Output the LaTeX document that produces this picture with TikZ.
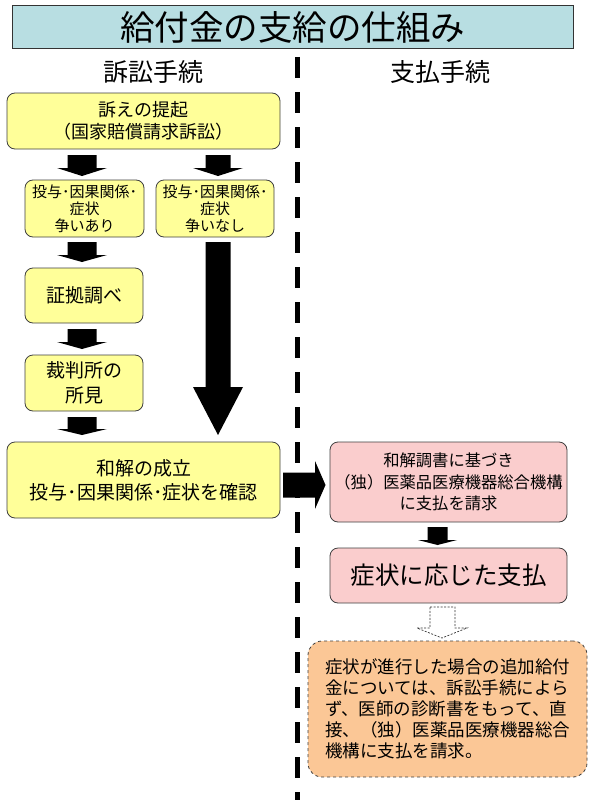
\documentclass[tikz,border=0pt]{standalone}
\usepackage{fontspec}
\setmainfont{Noto Sans CJK JP}
\definecolor{titlefill}{HTML}{B8DEE2}
\definecolor{yfill}{HTML}{FFFF99}
\definecolor{pfill}{HTML}{FACDCD}
\definecolor{ofill}{HTML}{FBC796}
\newcommand{\blkdown}[6]{% cx, ytop, yheadbase, ytip, shaft half, head half
  \fill[black] ({#1-#5},#2) -- ({#1+#5},#2) -- ({#1+#5},#3) -- ({#1+#6},#3) -- (#1,#4) -- ({#1-#6},#3) -- ({#1-#5},#3) -- cycle;}
\newcommand{\fs}[2]{\fontsize{#1pt}{#2pt}\selectfont}
\begin{document}
\begin{tikzpicture}[x=1pt,y=-1pt,
  box/.style={draw=black!75,line width=0.8pt,rounded corners=8pt,align=center,inner sep=0pt},
  ybox/.style={box,fill=yfill},
  pbox/.style={box,fill=pfill},
  obox/.style={box,fill=ofill,dashed,rounded corners=14pt,align=left},
]
\useasboundingbox (0,0) rectangle (592,800);
\fill[white] (0,0) rectangle (592,800);

% title
\node[draw=black!80,line width=1pt,fill=titlefill,minimum width=561pt,minimum height=43pt,inner sep=0pt,font=\fs{34.5}{38}] (title) at (292.5,27.5) {給付金の支給の仕組み};

% headers
\node[font=\fs{25}{28}] (hL) at (153,72) {訴訟手続};
\node[font=\fs{25}{28}] (hR) at (440,72) {支払手続};

% dashed separator
\coordinate (sepT) at (297,57);
\coordinate (sepB) at (297,800);
\draw[line width=5pt,dash pattern=on 21pt off 14pt] (sepT) -- (sepB);

% left column
\node[ybox,minimum width=273pt,minimum height=56pt,font=\fs{18}{22}] (sue) at (143.5,121) {訴えの提起\\（国家賠償請求訴訟）};
\node[ybox,minimum width=119pt,minimum height=57pt,font=\fs{15}{17}] (dispA) at (84.5,208.5) {投与･因果関係･\\症状\\争いあり};
\node[ybox,minimum width=118pt,minimum height=57pt,font=\fs{15}{17}] (dispB) at (215,208.5) {投与･因果関係･\\症状\\争いなし};
\node[ybox,minimum width=118pt,minimum height=55pt,font=\fs{19}{24}] (evid) at (84,295.5) {証拠調べ};
\node[ybox,minimum width=118pt,minimum height=56pt,font=\fs{19}{25}] (opin) at (84,383) {裁判所の\\所見};
\node[ybox,minimum width=273pt,minimum height=76pt,font=\fs{19}{24}] (settle) at (143.5,480) {和解の成立\\投与･因果関係･症状を確認};

% right column
\node[pbox,minimum width=237pt,minimum height=80pt,font=\fs{16.3}{21.5}] (claim) at (448.5,482) {和解調書に基づき\\（独）医薬品医療機器総合機構\\に支払を請求};
\node[pbox,minimum width=237pt,minimum height=55pt,font=\fs{24.5}{28}] (pay) at (448.5,575.5) {症状に応じた支払};
\node[obox,minimum width=279pt,minimum height=136pt,font=\fs{17.5}{21}] (note) at (447.5,709) {症状が進行した場合の追加給付\\金については、訴訟手続によら\\ず、医師の診断書をもって、直\\接、（独）医薬品医療機器総合\\機構に支払を請求。};

% block arrows
\blkdown{82}{155}{168}{176}{14.5}{25}
\blkdown{218}{155}{168}{176}{12.5}{25}
\blkdown{82}{242}{255}{262}{14.5}{25}
\blkdown{82}{329}{342}{349}{14.5}{25}
\blkdown{82}{417}{429}{435}{14.5}{25}
\blkdown{218}{242}{387}{435}{12.5}{25}
\blkdown{437.5}{527}{540}{545}{10}{19.5}
% horizontal arrow settle -> claim
\fill[black] (283,472.5) -- (315,472.5) -- (315,461) -- (325.5,485) -- (315,509) -- (315,497.5) -- (283,497.5) -- cycle;
% dashed hollow arrow pay -> note
\draw[black!80,line width=0.7pt,dash pattern=on 2pt off 1.5pt,fill=white]
  (430,607) -- (455,607) -- (455,628) -- (467,628) -- (442,638) -- (417,628) -- (430,628) -- cycle;
\end{tikzpicture}
\end{document}
